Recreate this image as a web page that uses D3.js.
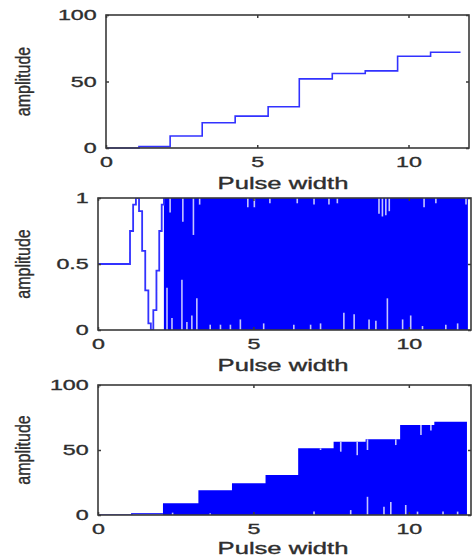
<!DOCTYPE html>
<html>
<head>
<meta charset="utf-8">
<script src="https://cdn.jsdelivr.net/npm/d3@7"></script>
<style>
  body { margin: 0; background: #fff; }
  svg { display: block; }
  text { font-family: "Liberation Sans", Arial, sans-serif; }
</style>
</head>
<body>
<svg width="474" height="558"></svg>
<script>
// ---- data ----
const xTicks = [0, 5, 10];
const yTicksAmp = [0, 50, 100];
const yTicksNorm = [0, 0.5, 1];

// panel 1: stepped amplitude
const step1X = [0, 1.09, 2.12, 3.18, 4.27, 5.36, 6.39, 7.48, 8.57, 9.64, 10.73, 11.72];
const step1Y = [0, 1, 9, 19, 24, 31, 52, 56, 58, 69, 72, 72];

// panel 2: lead-in (0.5, then one slow swing) and dense band
const lead2X = [0, 1.03, 1.13, 1.22, 1.32, 1.42, 1.52, 1.62, 1.70, 1.78, 1.88, 1.97, 2.05, 2.12];
const lead2Y = [0.5, 0.75, 0.95, 1.0, 0.9, 0.6, 0.3, 0.05, 0.0, 0.15, 0.45, 0.75, 0.95, 1.0];
const band2X = [2.12, 11.9];
const band2Y = [1, 1];
const dipTop2X = [2.32, 2.73, 3.07, 3.27, 4.82, 5.03, 5.53, 6.41, 6.95, 7.43, 7.70, 9.04, 9.15, 9.26, 9.37, 10.49, 10.87, 11.84];
const dipTop2Y = [0.89, 0.82, 0.72, 0.95, 0.93, 0.93, 0.96, 0.96, 0.95, 0.95, 0.96, 0.88, 0.86, 0.87, 0.90, 0.93, 0.96, 0.95];
const dipBot2X = [2.22, 2.38, 2.70, 2.86, 3.02, 3.18, 3.61, 3.94, 4.26, 4.58, 5.33, 6.30, 6.84, 7.16, 7.91, 8.24, 8.72, 8.94, 9.31, 9.80, 10.06, 10.44, 11.19, 11.57];
const dipBot2Y = [0.32, 0.09, 0.38, 0.06, 0.11, 0.24, 0.04, 0.04, 0.04, 0.08, 0.05, 0.04, 0.04, 0.05, 0.13, 0.12, 0.08, 0.07, 0.24, 0.08, 0.11, 0.03, 0.04, 0.05];

// panel 3: lead-in and dense band under a stepped envelope
const lead3X = [0, 1.09, 2.09];
const lead3Y = [0, 1, 1];
const band3X = [2.09, 3.23, 4.31, 5.39, 6.44, 7.58, 8.61, 9.72, 10.82, 11.87];
const band3Y = [9, 19, 24.4, 30.8, 51.3, 56.4, 58.2, 69.2, 71.8, 71.8];
const dipTop3X = [7.16, 7.81, 8.34, 8.67, 9.58, 10.39, 10.71];
const dipTop3Y = [50, 48.7, 46, 50, 53.8, 61.5, 65];
const dipBot3X = [2.4, 3.61, 6.95, 8.13, 8.67, 9.2, 9.42, 9.9, 10.28, 11.1, 11.57];
const dipBot3Y = [1.8, 1.3, 2.6, 3.8, 14, 6.4, 10, 7.7, 2.6, 2.6, 2.6];

// ---- layout ----
const SX = 1.55;          // the original figure is stretched sideways
const axisColor = "#3a3a3a";
const textColor = "#2e2e2e";
const lineColor = "#3030ff";
const fillColor = "#0000ff";
const notchColor = "#c4c4ff";

const svg = d3.select("svg");

// soften the marks a little, the source image is blurry
svg.append("defs").append("filter").attr("id", "soft")
  .append("feGaussianBlur").attr("stdDeviation", 0.55);

const panels = [
  { left: 106, right: 469, top: 15,  bottom: 148, yDomain: [0, 100], yTicks: yTicksAmp },
  { left: 98,  right: 471, top: 198, bottom: 330, yDomain: [0, 1],   yTicks: yTicksNorm },
  { left: 98,  right: 471, top: 385, bottom: 515, yDomain: [0, 100], yTicks: yTicksAmp }
];

function zip(xs, ys) { return xs.map((x, i) => [x, ys[i]]); }

panels.forEach((p, i) => {
  p.x = d3.scaleLinear().domain([0, 12]).range([p.left, p.right]);
  p.y = d3.scaleLinear().domain(p.yDomain).range([p.bottom, p.top]);
  p.g = svg.append("g").attr("filter", "url(#soft)");
  p.clip = "clip" + i;
  svg.append("clipPath").attr("id", p.clip)
    .append("rect")
    .attr("x", p.left).attr("y", p.top)
    .attr("width", p.right - p.left).attr("height", p.bottom - p.top);
});

const stepLine = p => d3.line().x(d => p.x(d[0])).y(d => p.y(d[1])).curve(d3.curveStepAfter);
const stepArea = p => d3.area().x(d => p.x(d[0])).y0(p.y(0)).y1(d => p.y(d[1])).curve(d3.curveStepAfter);

// panel 1
{
  const p = panels[0];
  p.g.append("path")
    .datum(zip(step1X, step1Y))
    .attr("fill", "none")
    .attr("stroke", lineColor)
    .attr("stroke-width", 1.6)
    .attr("d", stepLine(p));
}

// panel 2
{
  const p = panels[1];
  const g = p.g.append("g").attr("clip-path", `url(#${p.clip})`);
  g.append("path")
    .datum(zip(band2X, band2Y))
    .attr("fill", fillColor)
    .attr("d", stepArea(p));
  g.selectAll(".dt").data(zip(dipTop2X, dipTop2Y)).enter().append("line")
    .attr("x1", d => p.x(d[0])).attr("x2", d => p.x(d[0]))
    .attr("y1", p.y(1)).attr("y2", d => p.y(d[1]))
    .attr("stroke", notchColor).attr("stroke-width", 1.6);
  g.selectAll(".db").data(zip(dipBot2X, dipBot2Y)).enter().append("line")
    .attr("x1", d => p.x(d[0])).attr("x2", d => p.x(d[0]))
    .attr("y1", p.y(0)).attr("y2", d => p.y(d[1]))
    .attr("stroke", notchColor).attr("stroke-width", 1.6);
  g.append("path")
    .datum(zip(lead2X, lead2Y))
    .attr("fill", "none")
    .attr("stroke", lineColor)
    .attr("stroke-width", 1.8)
    .attr("d", stepLine(p));
}

// panel 3
{
  const p = panels[2];
  const g = p.g.append("g").attr("clip-path", `url(#${p.clip})`);
  const band = zip(band3X, band3Y);
  g.append("path")
    .datum(band)
    .attr("fill", fillColor)
    .attr("d", stepArea(p));
  const levelAt = x => band3Y[Math.max(0, d3.bisectRight(band3X, x) - 1)];
  g.selectAll(".dt").data(zip(dipTop3X, dipTop3Y)).enter().append("line")
    .attr("x1", d => p.x(d[0])).attr("x2", d => p.x(d[0]))
    .attr("y1", d => p.y(levelAt(d[0]))).attr("y2", d => p.y(d[1]))
    .attr("stroke", notchColor).attr("stroke-width", 1.6);
  g.selectAll(".db").data(zip(dipBot3X, dipBot3Y)).enter().append("line")
    .attr("x1", d => p.x(d[0])).attr("x2", d => p.x(d[0]))
    .attr("y1", p.y(0)).attr("y2", d => p.y(d[1]))
    .attr("stroke", notchColor).attr("stroke-width", 1.6);
  g.append("path")
    .datum(zip(lead3X, lead3Y))
    .attr("fill", "none")
    .attr("stroke", lineColor)
    .attr("stroke-width", 1.6)
    .attr("d", stepLine(p));
}

// axes, frames and labels
panels.forEach(p => {
  const tick = 3;
  const styleAxis = sel => {
    sel.select(".domain").remove();
    sel.selectAll("line").attr("stroke", axisColor).attr("stroke-width", 1.5);
    sel.selectAll("text")
      .attr("fill", textColor)
      .attr("stroke", textColor)
      .attr("stroke-width", 0.35)
      .style("font-size", "15px");
  };

  svg.append("g")
    .attr("transform", `translate(0,${p.bottom})`)
    .call(d3.axisBottom(p.x).tickValues(xTicks).tickSize(-tick).tickPadding(8))
    .call(styleAxis)
    .selectAll("text").attr("transform", `scale(${SX},1)`);

  svg.append("g")
    .attr("transform", `translate(0,${p.top})`)
    .call(d3.axisTop(p.x).tickValues(xTicks).tickSize(-tick).tickFormat(""))
    .call(styleAxis);

  svg.append("g")
    .attr("transform", `translate(${p.left},0)`)
    .call(d3.axisLeft(p.y).tickValues(p.yTicks).tickSize(-tick).tickPadding(6).tickFormat(d3.format("~g")))
    .call(styleAxis)
    .selectAll("text").attr("transform", `scale(${SX},1)`);

  svg.append("g")
    .attr("transform", `translate(${p.right},0)`)
    .call(d3.axisRight(p.y).tickValues(p.yTicks).tickSize(-tick).tickFormat(""))
    .call(styleAxis);

  svg.append("rect")
    .attr("x", p.left).attr("y", p.top)
    .attr("width", p.right - p.left).attr("height", p.bottom - p.top)
    .attr("fill", "none")
    .attr("stroke", axisColor)
    .attr("stroke-width", 1.6);

  svg.append("text")
    .attr("transform", `translate(283,${Math.min(p.bottom + 41, 554)}) scale(1.6,1)`)
    .attr("text-anchor", "middle")
    .attr("fill", textColor)
    .attr("stroke", textColor)
    .attr("stroke-width", 0.35)
    .style("font-size", "16px")
    .text("Pulse width");

  svg.append("text")
    .attr("transform", `translate(30,${(p.top + p.bottom) / 2}) rotate(-90) scale(1,1.25)`)
    .attr("text-anchor", "middle")
    .attr("fill", textColor)
    .attr("stroke", textColor)
    .attr("stroke-width", 0.3)
    .style("font-size", "16px")
    .text("amplitude");
});
</script>
</body>
</html>
